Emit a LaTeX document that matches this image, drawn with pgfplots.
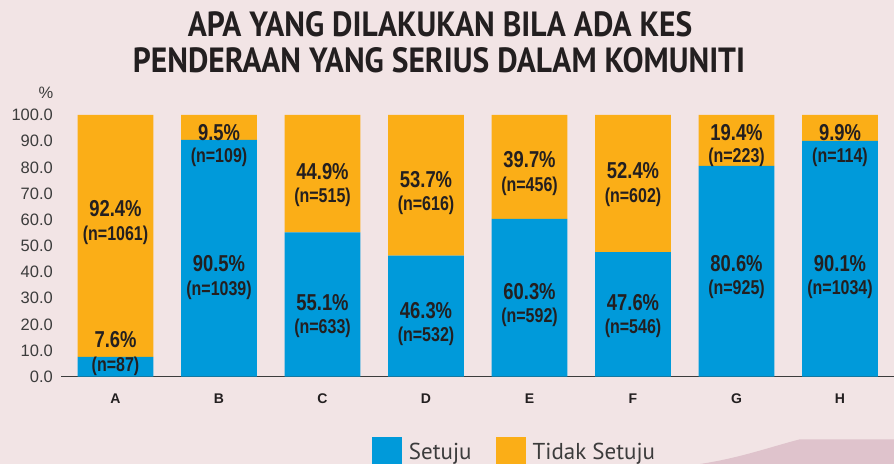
\documentclass[border=0pt]{standalone}
\usepackage{pgfplots}
\usepackage{pgfplotstable}
\pgfplotsset{compat=1.18}
\usepackage{fontspec}
\setmainfont{Liberation Sans}
\newfontfamily\lblfont[FakeStretch=0.8]{Liberation Sans}
\newfontfamily\titlefont[FakeStretch=0.9]{PT Sans}
\newfontfamily\legfont{PT Sans}
\definecolor{bg}{HTML}{F2E4E5}
\definecolor{cblue}{HTML}{009ADA}
\definecolor{corange}{HTML}{FBAE17}
\definecolor{deco}{HTML}{DFC3CC}
\definecolor{txt}{HTML}{231F20}
\definecolor{tickc}{HTML}{3C3C3C}

\pgfplotstableread{
x setuju tidak
0 7.6 92.4
1 90.5 9.5
2 55.1 44.9
3 46.3 53.7
4 60.3 39.7
5 47.6 52.4
6 80.6 19.4
7 90.1 9.9
}\bars

\pgfplotstableread{
x y p
0 64.3 92.4
0 14.0 7.6
1 93.2 9.5
1 43.3 90.5
2 78.3 44.9
2 28.3 55.1
3 75.5 53.7
3 25.2 46.3
4 82.8 39.7
4 32.5 60.3
5 78.7 52.4
5 28.3 47.6
6 93.4 19.4
6 43.3 80.6
7 93.4 9.9
7 43.3 90.1
}\pcts

\pgfplotstableread{
x y n
0 54.1 1061
0 4.1 87
1 83.7 109
1 33.1 1039
2 68.6 515
2 18.5 633
3 65.6 616
3 15.3 532
4 72.9 456
4 22.7 592
5 68.6 602
5 18.5 546
6 83.8 223
6 33.4 925
7 83.8 114
7 33.4 1034
}\ns

\pgfplotsset{baseax/.style={scale only axis, width=833bp, height=261.7bp,
  at={(61bp,87.3bp)}, anchor=south west,
  xmin=-0.5266, xmax=7.5217, ymin=0, ymax=100}}

\begin{document}
\begin{tikzpicture}[x=1bp,y=1bp]
\useasboundingbox (0,0) rectangle (894,464);
\fill[bg] (0,0) rectangle (894,464);
\fill[deco] (700,0) .. controls (740,6) and (770,17) .. (800,24.7) -- (894,24.7) -- (894,0) -- cycle;

\node[font=\titlefont\bfseries\fontsize{35bp}{35bp}\selectfont, text=txt, inner sep=0pt] at (440,440) {APA YANG DILAKUKAN BILA ADA KES};
\node[font=\titlefont\bfseries\fontsize{35bp}{35bp}\selectfont, text=txt, inner sep=0pt] at (439,403.5) {PENDERAAN YANG SERIUS DALAM KOMUNITI};
\node[font=\fontsize{16.5bp}{16.5bp}\selectfont, text=tickc, inner sep=0pt] at (46,371) {\%};

\begin{axis}[baseax, ybar stacked, bar width=0.73,
  axis x line=bottom, axis y line=left,
  y axis line style={draw=none},
  x axis line style={-, draw=tickc, line width=1.5bp},
  major tick length=0pt,
  ytick={0,10,...,100},
  yticklabel style={font=\fontsize{16.5bp}{16.5bp}\selectfont, text=tickc, anchor=east, inner sep=0pt, xshift=-8bp,
    /pgf/number format/.cd, fixed, fixed zerofill, precision=1, assume math mode=true},
  xtick={0,...,7}, xticklabels={A,B,C,D,E,F,G,H},
  xticklabel style={font=\bfseries\fontsize{14bp}{14bp}\selectfont, text=txt, anchor=north, inner sep=0pt, yshift=-17bp},
  legend image code/.code={\fill[#1] (0bp,-15bp) rectangle (30bp,15bp);},
  legend style={at={(0.3733,-0.2866)}, anchor=west, draw=none, fill=none, inner sep=0pt, outer sep=0pt,
    font=\legfont\fontsize{23bp}{23bp}\selectfont, text=tickc,
    /tikz/every odd column/.append style={column sep=5bp},
    /tikz/every even column/.append style={column sep=22bp}},
  legend columns=2, legend cell align=left,
  clip=false]
\addplot[fill=cblue, draw=none] table[x=x,y=setuju]{\bars};
\addplot[fill=corange, draw=none] table[x=x,y=tidak]{\bars};
\legend{Setuju, Tidak Setuju}
\end{axis}

\begin{axis}[baseax, hide axis, clip=false]
\addplot[draw=none, mark=none, point meta=explicit symbolic,
  nodes near coords={\lblfont\bfseries\fontsize{23bp}{23bp}\selectfont\pgfplotspointmeta\%},
  every node near coord/.append style={anchor=center, inner sep=0pt, text=txt}]
  table[x=x,y=y,meta=p]{\pcts};
\addplot[draw=none, mark=none, point meta=explicit symbolic,
  nodes near coords={\lblfont\bfseries\fontsize{20bp}{20bp}\selectfont(n=\pgfplotspointmeta)},
  every node near coord/.append style={anchor=center, inner sep=0pt, text=txt}]
  table[x=x,y=y,meta=n]{\ns};
\end{axis}
\end{tikzpicture}
\end{document}
